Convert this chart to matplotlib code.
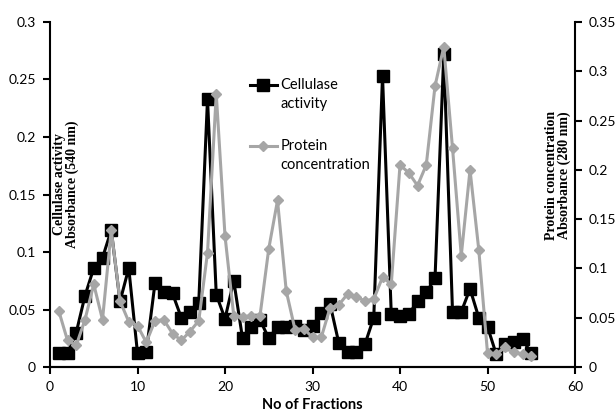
import matplotlib
matplotlib.use("Agg")
import matplotlib.pyplot as plt
from matplotlib.ticker import FormatStrFormatter
from matplotlib.legend_handler import HandlerLine2D

fractions = list(range(1, 56))

cellulase = [0.012, 0.012, 0.030, 0.062, 0.086, 0.095, 0.119, 0.057, 0.086, 0.012,
             0.013, 0.073, 0.065, 0.064, 0.043, 0.048, 0.056, 0.233, 0.063, 0.042,
             0.075, 0.025, 0.035, 0.041, 0.025, 0.035, 0.035, 0.036, 0.032, 0.036,
             0.047, 0.055, 0.021, 0.013, 0.013, 0.020, 0.043, 0.253, 0.046, 0.044,
             0.046, 0.057, 0.065, 0.077, 0.272, 0.048, 0.048, 0.068, 0.043, 0.035,
             0.011, 0.020, 0.022, 0.024, 0.012]

protein = [0.057, 0.027, 0.022, 0.048, 0.084, 0.048, 0.139, 0.067, 0.046, 0.042,
           0.025, 0.047, 0.048, 0.034, 0.027, 0.036, 0.047, 0.116, 0.277, 0.133,
           0.052, 0.051, 0.052, 0.052, 0.120, 0.169, 0.077, 0.038, 0.039, 0.030,
           0.030, 0.060, 0.063, 0.074, 0.071, 0.067, 0.069, 0.091, 0.084, 0.205,
           0.197, 0.184, 0.205, 0.285, 0.325, 0.222, 0.113, 0.200, 0.119, 0.014,
           0.013, 0.020, 0.015, 0.013, 0.011]

tick_font = "Lato"
label_font = "Liberation Serif"


class TopLineHandler(HandlerLine2D):
    # put the legend line level with the first line of a two-line label
    def create_artists(self, legend, orig_handle, xdescent, ydescent,
                       width, height, fontsize, trans):
        return super().create_artists(legend, orig_handle, xdescent,
                                      ydescent - 1.35 * fontsize, width, height,
                                      fontsize, trans)


fig = plt.figure(figsize=(6.15, 4.11), dpi=100)
ax = fig.add_axes([0.0813, 0.107, 0.8537, 0.8395])
ax2 = ax.twinx()

l1, = ax.plot(fractions, cellulase, color="black", lw=2.2, marker="s",
              markersize=8.5, label="Cellulase\nactivity", zorder=2)
l2, = ax2.plot(fractions, protein, color="#a6a6a6", lw=2.2, marker="D",
               markersize=5, label="Protein\nconcentration", zorder=3)

ax.set_xlim(0, 60)
ax.set_ylim(0, 0.3)
ax2.set_ylim(0, 0.35)
ax.set_xticks(range(0, 61, 10))
ax.set_yticks([0, 0.05, 0.1, 0.15, 0.2, 0.25, 0.3])
ax2.set_yticks([0, 0.05, 0.1, 0.15, 0.2, 0.25, 0.3, 0.35])
ax.yaxis.set_major_formatter(FormatStrFormatter("%g"))
ax2.yaxis.set_major_formatter(FormatStrFormatter("%g"))

for a in (ax, ax2):
    a.spines["top"].set_visible(False)
    for s in a.spines.values():
        s.set_linewidth(1.5)
    a.tick_params(direction="out", length=5, width=1.5, labelsize=10, pad=5)
    for lab in a.get_xticklabels() + a.get_yticklabels():
        lab.set_fontfamily(tick_font)
ax2.spines["left"].set_visible(False)
ax.spines["right"].set_visible(False)

ax.set_xlabel("No of Fractions", fontfamily=tick_font, fontweight="bold",
              fontsize=10.5, labelpad=4)

ax.text(0.03, 0.53, "Cellulase activity\nAbsorbance (540 nm)", transform=ax.transAxes,
        rotation=90, ha="center", va="center", fontfamily=label_font,
        fontweight="bold", fontsize=10, linespacing=1.0)
ax.text(0.968, 0.555, "Protein concentration\nAbsorbance (280 nm)", transform=ax.transAxes,
        rotation=90, ha="center", va="center", fontfamily=label_font,
        fontweight="bold", fontsize=10, linespacing=1.0)

leg = ax2.legend(handles=[l1, l2], loc="upper left", bbox_to_anchor=(0.355, 0.875),
                 frameon=False, handlelength=1.9, labelspacing=1.9,
                 prop={"family": tick_font, "size": 10.5}, handletextpad=0.2,
                 handler_map={l1: TopLineHandler(), l2: TopLineHandler()})
for t in leg.get_texts():
    t.set_linespacing(1.45)

fig.savefig("out.png", dpi=100)
